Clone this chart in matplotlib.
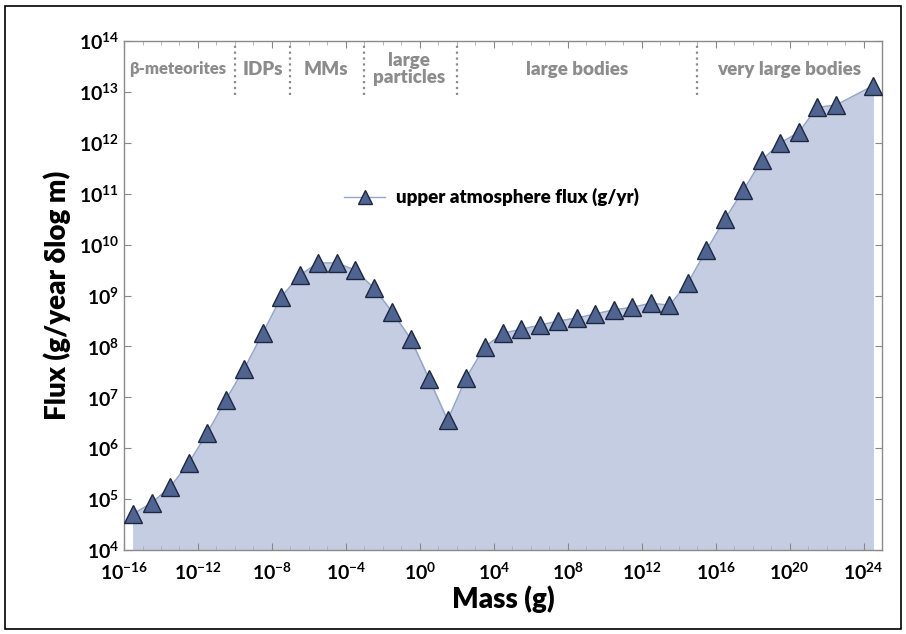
import matplotlib
matplotlib.use("Agg")
import matplotlib.pyplot as plt
import numpy as np
from matplotlib.patches import Rectangle
from matplotlib.ticker import NullFormatter

plt.rcParams['font.family'] = ['Lato', 'DejaVu Sans']
plt.rcParams['mathtext.fontset'] = 'custom'
plt.rcParams['mathtext.rm'] = 'Lato:bold'
plt.rcParams['mathtext.bf'] = 'Lato:bold'
plt.rcParams['mathtext.it'] = 'Lato:bold'

# log10 of mass (g) and log10 of flux (g/yr)
log_mass = [-15.5, -14.5, -13.5, -12.5, -11.5, -10.5, -9.5, -8.5, -7.5, -6.5,
            -5.5, -4.5, -3.5, -2.5, -1.5, -0.5, 0.5, 1.5, 2.5, 3.5,
            4.5, 5.5, 6.5, 7.5, 8.5, 9.5, 10.5, 11.5, 12.5, 13.5,
            14.5, 15.5, 16.5, 17.5, 18.5, 19.5, 20.5, 21.5, 22.5, 24.5]
log_flux = [4.71, 4.93, 5.24, 5.71, 6.30, 6.95, 7.56, 8.26, 8.97, 9.40,
            9.64, 9.64, 9.50, 9.15, 8.68, 8.15, 7.36, 6.55, 7.38, 7.99,
            8.26, 8.34, 8.42, 8.50, 8.56, 8.64, 8.72, 8.77, 8.85, 8.81,
            9.25, 9.89, 10.50, 11.07, 11.66, 12.00, 12.21, 12.70, 12.74, 13.12]

# population boundaries (log10 mass) and labels
bounds = [-10, -7, -3, 2, 15]
region_labels = ['β-meteorites', 'IDPs', 'MMs', 'large\nparticles', 'large bodies', 'very large bodies']
region_centers = [-13.1, -8.5, -5.1, -0.6, 8.5, 20.0]

mass = 10.0 ** np.array(log_mass)
flux = 10.0 ** np.array(log_flux)

fig = plt.figure(figsize=(9.06, 6.34), dpi=100)
ax = fig.add_axes([0.1369, 0.1325, 0.8366, 0.8028])

ax.fill_between(mass, flux, 1e4, color='#c5cde3', zorder=1)
ax.plot(mass, flux, color='#93a5c9', lw=1.0, zorder=2)
ax.plot(mass, flux, linestyle='none', marker='^', markersize=13,
        markerfacecolor='#4f6491', markeredgecolor='#1e2740', markeredgewidth=1.0, zorder=3)

ax.set_xscale('log')
ax.set_yscale('log')
ax.set_xlim(1e-16, 1e25)
ax.set_ylim(1e4, 1e14)

xt = [10.0 ** e for e in range(-16, 25, 4)]
ax.set_xticks(xt)
ax.set_xticklabels([r'$10^{%d}$' % e for e in range(-16, 25, 4)])
ax.set_xticks([10.0 ** e for e in range(-16, 26)], minor=True)
yt = [10.0 ** e for e in range(4, 15)]
ax.set_yticks(yt)
ax.set_yticklabels([r'$10^{%d}$' % e for e in range(4, 15)])
ax.xaxis.set_minor_formatter(NullFormatter())
ax.yaxis.set_minor_formatter(NullFormatter())

ax.tick_params(axis='both', which='major', labelsize=14, color='#888888', length=5,
               top=True, right=True, direction='in')
ax.tick_params(axis='both', which='minor', color='#aaaaaa', length=3,
               top=True, right=True, direction='in')
ax.tick_params(axis='x', pad=8)
for s in ax.spines.values():
    s.set_color('#8a8a8a')
    s.set_linewidth(1.0)

for b in bounds:
    ax.plot([10.0 ** b, 10.0 ** b], [10 ** 12.93, 1e14], color='#8a8a8a', ls=':', lw=1.6, zorder=2)

for lab, c in zip(region_labels, region_centers):
    fs = 12 if lab == 'β-meteorites' else 13.5
    ax.text(10.0 ** c, 10 ** 13.45, lab, ha='center', va='center', fontsize=fs,
            fontweight='heavy', color='#8c8c8c', linespacing=1.0)

ax.set_xlabel('Mass (g)', fontsize=20, fontweight='heavy', labelpad=2)
ax.set_ylabel('Flux (g/year δlog m)', fontsize=20, fontweight='heavy', labelpad=6)

ax.legend([plt.Line2D([], [], color='#93a5c9', lw=1.0, marker='^', markersize=10,
                      markerfacecolor='#4f6491', markeredgecolor='#1e2740')],
          ['upper atmosphere flux (g/yr)'], loc='center', bbox_to_anchor=(0.485, 0.693),
          frameon=False, prop={'weight': 'heavy', 'size': 13.5}, handlelength=2.2, handletextpad=0.6)

fig.patches.append(Rectangle((0.006, 0.008), 0.988, 0.982, transform=fig.transFigure,
                             fill=False, edgecolor='black', lw=1.2))

fig.savefig('out.png', dpi=100)
